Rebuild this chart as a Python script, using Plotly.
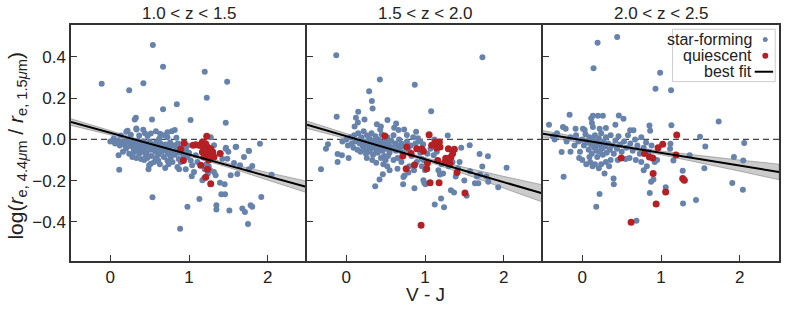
import plotly.graph_objects as go

# ---------------- data ----------------
panel_titles = ["1.0 < z < 1.5", "1.5 < z < 2.0", "2.0 < z < 2.5"]
x_ticks = [0, 1, 2]
y_ticks = [0.4, 0.2, 0.0, -0.2, -0.4]
y_tick_labels = ["0.4", "0.2", "0.0", "\u22120.2", "\u22120.4"]

sf1 = [(0.54,0.458),(-0.11,0.27),(0.67,0.352),(1.20,0.328),(1.485,0.28),(0.24,0.239),(0.42,0.272),(1.226,0.202),(0.845,0.17),(0.67,0.146),(1.02,0.094),(0.325,0.105),(0.31,0.097),(0.53,0.097),(1.467,0.081),
(0.219,0.042),(0.333,0.048),(0.418,0.047),(0.515,0.029),(0.633,0.027),(0.726,0.035),(0.819,0.045),(0.781,0.039),(0.726,0.011),(0.84,0.008),(0.134,0.019),(0.261,0.023),(0.367,0.019),(0.473,0.016),(0.62,0.003),(0.041,0.003),(0.092,-0.005),(0.203,0.037),(0.33,0.053),(1.276,0.011),(0.58,0.04),(0.68,0.02),(0.44,0.03),
(0.00,-0.01),(0.06,-0.02),(0.089,-0.012),(0.12,-0.03),(0.15,-0.01),(0.18,-0.025),(0.20,-0.04),(0.22,-0.005),(0.25,-0.02),(0.27,-0.035),(0.29,-0.01),(0.30,-0.05),(0.32,-0.02),(0.34,-0.035),(0.35,-0.005),(0.37,-0.045),(0.38,-0.02),(0.40,-0.03),(0.41,-0.06),(0.42,-0.01),(0.44,-0.04),(0.45,-0.02),(0.46,-0.065),(0.48,-0.035),(0.50,-0.01),(0.51,-0.05),(0.52,-0.08),(0.54,-0.025),(0.55,-0.045),(0.57,-0.06),(0.58,-0.015),(0.60,-0.035),(0.61,-0.075),(0.62,-0.05),(0.64,-0.02),(0.65,-0.06),(0.67,-0.04),(0.68,-0.085),(0.70,-0.025),(0.71,-0.055),(0.73,-0.07),(0.75,-0.04),(0.76,-0.015),(0.78,-0.06),(0.80,-0.03),(0.82,-0.075),(0.84,-0.05),(0.86,-0.02),(0.88,-0.065),(0.90,-0.04),(0.93,-0.08),(0.96,-0.055),(0.98,-0.03),(1.00,-0.07),
(0.105,-0.077),(0.113,-0.147),(0.198,-0.045),(0.303,-0.061),(0.367,-0.069),(0.451,-0.077),(0.494,-0.126),(0.515,-0.118),(0.485,-0.145),(0.557,-0.11),(0.608,-0.102),(0.697,-0.139),(0.726,-0.102),(0.769,-0.085),(0.853,-0.134),(0.874,-0.145),(0.895,-0.11),(0.959,-0.145),(0.536,-0.281),(0.98,-0.327),(0.887,-0.434),(1.132,-0.289),(1.035,-0.179),(1.064,-0.158),(1.17,-0.198),(1.19,-0.19),(1.318,-0.158),(1.339,-0.174),(1.348,-0.319),(1.348,-0.34),(1.394,-0.21),(1.453,-0.218),(1.411,-0.266),(1.458,-0.266),(1.513,-0.345),(1.53,-0.174),(1.572,-0.115),(1.614,-0.168),(1.648,-0.126),(1.678,-0.335),(1.711,-0.352),(1.75,-0.411),(1.783,-0.319),(1.804,-0.327),(1.762,-0.145),(1.804,-0.129),(1.699,-0.085),(1.762,-0.056),(1.919,-0.279),(1.902,-0.021),(2.05,-0.171),(1.593,-0.037),(1.466,-0.045),(1.487,-0.094),(1.424,-0.094),(1.403,-0.069),(1.318,-0.029),(1.086,-0.077),(1.107,-0.11),(1.022,-0.102),(1.04,-0.125),(0.98,-0.085),(1.0,-0.065),(0.96,-0.045),(0.94,-0.06),(0.87,-0.095),(0.85,-0.045),(0.83,-0.028),(1.25,-0.13),(1.27,-0.15),(1.22,-0.12),(1.20,-0.145),(1.24,-0.165),(1.6,-0.036),(1.759,-0.055),(1.47,-0.04),(1.5,-0.06),(0.16,-0.06),(0.24,-0.07),(0.28,-0.085),(0.33,-0.09),(0.39,-0.095),(0.43,-0.1),(0.47,-0.09),(0.58,-0.09),(0.63,-0.12),(0.74,-0.12),(0.79,-0.11)]

q1 = [(1.225,0.015),(0.938,-0.018),(0.895,-0.048),(0.929,-0.102),(1.052,-0.029),(1.086,-0.026),(1.128,-0.029),(1.17,-0.013),(1.212,-0.021),(1.234,-0.037),(1.191,-0.045),(1.255,-0.053),(1.276,-0.045),(1.17,-0.061),(1.212,-0.077),(1.297,-0.069),(1.318,-0.085),(1.191,-0.085),(1.234,-0.069),(1.276,-0.085),(1.394,-0.069),(1.149,-0.126),(1.234,-0.145),(1.212,-0.184),(1.276,-0.215),(1.16,-0.03),(1.25,-0.1),(1.30,-0.06),(1.2,-0.05)]

sf2 = [(-0.128,0.408),(1.73,0.398),(0.426,0.291),(0.87,0.265),(0.29,0.234),(0.325,0.186),(0.334,0.15),(-0.123,0.11),(0.151,0.134),(1.078,0.137),(0.122,0.105),(0.147,0.082),(0.231,0.097),(0.105,0.063),(0.388,0.073),(0.439,0.063),(0.43,0.048),(0.523,0.094),(0.633,0.077),(0.608,0.056),(0.663,0.045),(0.735,0.048),(0.887,0.037),(0.769,0.021),(1.289,0.019),(0.976,-0.023),(-0.259,-0.045),(-0.234,-0.023),(-0.322,-0.145),(-0.111,-0.071),(-0.111,-0.11),(-0.056,-0.077),(0.029,-0.09),
(-0.05,-0.01),(0.0,0.0),(0.02,-0.03),(0.05,0.01),(0.07,-0.02),(0.09,-0.04),(0.10,0.02),(0.12,-0.01),(0.14,-0.05),(0.15,0.03),(0.17,-0.02),(0.18,-0.06),(0.19,0.01),(0.21,-0.035),(0.22,0.04),(0.23,-0.01),(0.24,-0.05),(0.25,-0.07),(0.26,0.02),(0.27,-0.025),(0.28,-0.045),(0.29,0.005),(0.30,-0.06),(0.31,-0.015),(0.32,0.03),(0.33,-0.04),(0.34,-0.075),(0.35,-0.005),(0.36,-0.03),(0.37,0.015),(0.38,-0.055),(0.39,-0.02),(0.40,-0.065),(0.41,0.0),(0.42,-0.04),(0.44,-0.015),(0.45,0.025),(0.46,-0.055),(0.47,-0.03),(0.48,-0.08),(0.50,-0.01),(0.51,-0.045),(0.52,0.01),(0.54,-0.025),(0.55,-0.065),(0.57,-0.005),(0.58,-0.04),(0.60,0.02),(0.62,-0.02),(0.63,-0.055),(0.65,-0.03),(0.67,0.0),(0.68,-0.045),(0.70,-0.02),(0.72,-0.065),(0.74,-0.035),(0.77,-0.01),(0.79,-0.05),(0.82,-0.03),(0.85,0.01),(0.88,-0.02),(0.91,0.005),(0.94,-0.01),
(0.367,-0.227),(0.422,-0.194),(0.464,-0.169),(0.38,-0.113),(0.52,-0.13),(0.50,-0.10),(0.53,-0.08),(0.65,-0.142),(0.726,-0.182),(0.74,-0.175),(0.722,-0.218),(0.79,-0.161),(0.866,-0.237),(0.895,-0.11),(0.959,-0.095),(0.94,-0.065),(0.98,-0.198),(0.99,-0.21),(1.005,-0.218),(1.124,-0.316),(1.204,-0.287),(1.242,-0.329),(1.33,-0.247),(1.369,-0.258),(1.39,-0.18),(1.42,-0.14),(1.44,-0.11),(1.53,-0.274),(1.568,-0.029),(1.572,-0.155),(1.635,-0.213),(1.678,-0.213),(1.694,-0.071),(1.728,-0.132),(1.8,-0.082),(1.804,-0.206),(1.931,-0.232),(2.037,-0.137),(1.78,-0.18),(1.70,-0.17),(1.66,-0.18),(1.19,-0.17),(1.23,-0.165),(1.17,-0.15),(1.21,-0.12),(1.11,-0.077),(1.15,-0.06),(1.07,-0.045),(1.03,-0.07),(0.98,-0.1),(0.96,-0.13),(1.26,-0.09),(1.30,-0.13),(1.35,-0.11),(1.12,0.0),(1.08,-0.03),(0.60,-0.10),(0.65,-0.09),(0.70,-0.11),(0.55,-0.15),(0.47,-0.12),(0.44,-0.09),(0.26,-0.09),(0.33,-0.1),(0.83,-0.08),(0.80,-0.13),(0.86,-0.15),(1.00,-0.15),(1.46,-0.04),(1.50,-0.2)]

q2 = [(0.489,0.016),(1.052,0.023),(0.95,-0.416),(0.769,-0.037),(0.718,-0.081),(0.823,-0.069),(0.895,-0.045),(0.959,-0.045),(0.98,-0.058),(0.76,-0.142),(0.866,-0.124),(1.022,-0.142),(1.031,-0.115),(1.065,-0.21),(1.179,-0.21),(1.086,-0.029),(1.128,-0.013),(1.183,-0.013),(1.149,-0.042),(1.191,-0.037),(1.297,-0.045),(1.373,-0.048),(1.352,-0.069),(1.162,-0.102),(1.265,-0.092),(1.31,-0.102),(1.33,-0.085),(1.255,-0.11),(1.318,-0.118),(1.407,-0.161),(1.508,-0.26)]

sf3 = [(0.194,0.469),(0.443,0.497),(0.143,0.345),(0.989,0.323),(0.93,0.246),(1.128,0.238),(-0.162,0.119),(1.733,0.087),
(-0.424,0.071),(0.134,0.115),(0.198,0.115),(0.261,0.115),(0.113,0.103),(0.464,0.116),(0.523,0.1),(0.122,0.079),(-0.246,0.06),(-0.212,0.052),(-0.086,0.052),(0.008,0.052),(0.03,0.045),(0.134,0.06),(0.22,0.052),(0.30,0.055),(0.42,0.071),(0.608,0.044),(0.65,0.044),(0.853,0.068),(0.862,0.042),(1.132,0.069),(1.496,0.013),(1.563,-0.034),(2.058,-0.018),(1.927,-0.085),(2.045,-0.103),(1.906,-0.211),(2.041,-0.244),(1.551,-0.14),(1.445,-0.294),(1.276,-0.152),(1.28,-0.311),(1.365,-0.077),(1.158,-0.102),(1.12,-0.021),(1.115,-0.045),(1.06,-0.232),(1.056,-0.252),(0.904,-0.194),(0.874,-0.206),(0.857,-0.26),(0.688,-0.395),(0.177,-0.327),(0.219,-0.265),(0.282,-0.166),(0.397,-0.19),(0.40,-0.218),(-0.238,-0.181),(-0.263,-0.061),(-0.352,0.0),(-0.373,0.015),(-0.322,0.03),
(-0.20,-0.01),(-0.15,0.01),(-0.10,-0.03),(-0.08,0.02),(-0.05,-0.01),(-0.03,-0.06),(0.0,0.0),(0.02,-0.03),(0.04,0.025),(0.06,-0.015),(0.08,-0.05),(0.09,0.01),(0.11,-0.025),(0.12,-0.07),(0.13,0.0),(0.15,-0.04),(0.16,0.02),(0.17,-0.015),(0.18,-0.055),(0.19,-0.085),(0.20,-0.03),(0.21,0.005),(0.22,-0.06),(0.23,-0.02),(0.24,0.03),(0.25,-0.045),(0.26,-0.075),(0.27,-0.01),(0.29,-0.035),(0.30,0.01),(0.31,-0.065),(0.33,-0.02),(0.35,-0.05),(0.36,0.02),(0.38,-0.03),(0.40,-0.07),(0.42,-0.005),(0.44,-0.045),(0.46,0.015),(0.48,-0.025),(0.50,-0.06),(0.53,-0.01),(0.56,-0.04),(0.58,0.02),(0.61,-0.02),(0.64,-0.055),(0.67,0.0),(0.70,-0.03),(0.73,-0.07),(0.75,0.01),(0.78,-0.04),(0.81,-0.015),(0.84,-0.06),(0.88,-0.03),(0.95,-0.1),(0.92,-0.11),
(-0.04,-0.09),(0.0,-0.1),(0.05,-0.12),(0.10,-0.11),(0.13,-0.13),(0.16,-0.12),(0.21,-0.14),(0.24,-0.12),(0.30,-0.11),(0.34,-0.13),(0.36,-0.10),(0.45,-0.1),(0.55,-0.095),(0.6,-0.09),(0.68,-0.1),(0.75,-0.11),(0.82,-0.13),(0.78,-0.15),(0.09,-0.085),(-0.15,-0.06)]

q3 = [(1.2,0.021),(1.022,-0.024),(0.963,-0.04),(0.79,-0.069),(0.853,-0.085),(0.895,-0.09),(0.494,-0.09),(1.191,-0.076),(0.9,-0.166),(1.276,-0.19),(1.297,-0.198),(1.06,-0.255),(0.938,-0.313),(0.62,-0.402)]

# best-fit lines (end points) and confidence band half-widths
fit_x = [-0.5, 2.5]
fit_y = [[0.084, -0.231], [0.071, -0.263], [0.027, -0.158]]
band_x = [-0.5, 0.0, 0.5, 1.0, 1.5, 2.0, 2.5]
band_half = [[0.016, 0.010, 0.006, 0.006, 0.010, 0.018, 0.028],
             [0.018, 0.012, 0.008, 0.008, 0.016, 0.028, 0.042],
             [0.016, 0.010, 0.007, 0.009, 0.017, 0.027, 0.038]]

sf_data = [sf1, sf2, sf3]
q_data = [q1, q2, q3]

# ---------------- styling ----------------
BLUE = "#6783ab"
RED = "#b52025"
FONT = "Liberation Sans, Arial, sans-serif"
AX = "#333333"

fig = go.Figure()
domains = [[0, 1/3], [1/3, 2/3], [2/3, 1]]

for i in range(3):
    xa = "x" if i == 0 else f"x{i+1}"
    ya = "y" if i == 0 else f"y{i+1}"
    s = (fit_y[i][1] - fit_y[i][0]) / (fit_x[1] - fit_x[0])
    line_at = [fit_y[i][0] + s * (bx - fit_x[0]) for bx in band_x]
    upper = [l + h for l, h in zip(line_at, band_half[i])]
    lower = [l - h for l, h in zip(line_at, band_half[i])]
    fig.add_trace(go.Scatter(x=band_x + band_x[::-1], y=upper + lower[::-1], fill="toself",
                             fillcolor="rgba(140,140,140,0.45)", mode="lines",
                             line=dict(color="rgba(110,110,110,0.6)", width=0.8),
                             xaxis=xa, yaxis=ya, showlegend=False, hoverinfo="skip"))
    fig.add_trace(go.Scatter(x=[p[0] for p in sf_data[i]], y=[p[1] for p in sf_data[i]], mode="markers",
                             marker=dict(color=BLUE, size=6, line=dict(width=0)),
                             name="star-forming", xaxis=xa, yaxis=ya, showlegend=False))
    fig.add_trace(go.Scatter(x=[p[0] for p in q_data[i]], y=[p[1] for p in q_data[i]], mode="markers",
                             marker=dict(color=RED, size=7, line=dict(width=0)),
                             name="quiescent", xaxis=xa, yaxis=ya, showlegend=False))
    fig.add_trace(go.Scatter(x=fit_x, y=fit_y[i], mode="lines", line=dict(color="black", width=2),
                             name="best fit", xaxis=xa, yaxis=ya, showlegend=False))
    fig.add_shape(type="line", xref=f"{xa} domain", yref=ya, x0=0, x1=1, y0=0, y1=0,
                  line=dict(color="#444444", width=1.3, dash="6px,4px"), layer="below")

    xkey = "xaxis" if i == 0 else f"xaxis{i+1}"
    ykey = "yaxis" if i == 0 else f"yaxis{i+1}"
    fig.update_layout({
        xkey: dict(domain=domains[i], range=[-0.5, 2.5], anchor=ya, tickvals=x_ticks,
                   ticks="inside", ticklen=6, tickwidth=1.2, tickcolor=AX,
                   showline=True, linecolor=AX, linewidth=1.5, mirror=True,
                   showgrid=False, zeroline=False, tickfont=dict(size=17, color="#222")),
        ykey: dict(domain=[0, 1], range=[-0.59, 0.555], anchor=xa, tickvals=y_ticks,
                   ticktext=y_tick_labels, showticklabels=(i == 0),
                   ticks="inside", ticklen=6, tickwidth=1.2, tickcolor=AX,
                   showline=True, linecolor=AX, linewidth=1.5, mirror=(i == 2),
                   showgrid=False, zeroline=False, tickfont=dict(size=17, color="#222")),
    })
    fig.add_annotation(text=panel_titles[i], xref=f"{xa} domain", yref="paper", x=0.5, y=1.047,
                       xanchor="center", yanchor="middle", showarrow=False,
                       font=dict(size=17, color="#222"))

# axis titles
fig.add_annotation(text="V - J", xref="x2 domain", yref="paper", x=0.5, y=-0.14,
                   xanchor="center", yanchor="middle", showarrow=False, borderpad=0,
                   font=dict(size=19, color="#222"))
fig.add_annotation(text="log(<i>r</i><sub>e, 4.4<i>\u03bc</i>m</sub> / <i>r</i><sub>e, 1.5<i>\u03bc</i>m</sub>)",
                   xref="paper", yref="paper", x=-0.076, y=0.49, textangle=-90,
                   xanchor="center", yanchor="middle", showarrow=False, font=dict(size=21, color="#222"))

# legend (text left, symbol right) in panel 3
fig.add_shape(type="rect", xref="x3 domain", yref="y3 domain", x0=0.549, x1=0.984, y0=0.76, y1=0.982,
              line=dict(color="#cccccc", width=1), fillcolor="rgba(255,255,255,0.8)")
leg_labels = ["star-forming", "quiescent", "best fit"]
leg_y = [0.939, 0.870, 0.802]
for lab, ly in zip(leg_labels, leg_y):
    fig.add_annotation(text=lab, xref="x3 domain", yref="y3 domain", x=0.893, y=ly,
                       xanchor="right", yanchor="middle", showarrow=False, font=dict(size=16, color="#222"))
rx, ry = 2.5 / 237, 2.5 / 236
fig.add_shape(type="circle", xref="x3 domain", yref="y3 domain", x0=0.942 - rx, x1=0.942 + rx,
              y0=leg_y[0] - ry, y1=leg_y[0] + ry, fillcolor=BLUE, line=dict(width=0))
rx2, ry2 = 3 / 237, 3 / 236
fig.add_shape(type="circle", xref="x3 domain", yref="y3 domain", x0=0.942 - rx2, x1=0.942 + rx2,
              y0=leg_y[1] - ry2, y1=leg_y[1] + ry2, fillcolor=RED, line=dict(width=0))
fig.add_shape(type="line", xref="x3 domain", yref="y3 domain", x0=0.897, x1=0.975,
              y0=leg_y[2], y1=leg_y[2], line=dict(color="black", width=2))

fig.update_layout(width=789, height=311, margin=dict(l=71, r=8, t=25, b=50),
                  paper_bgcolor="white", plot_bgcolor="white",
                  font=dict(family=FONT, color="#222"), showlegend=False)

fig.write_html("out.html", config={"displayModeBar": False},
               post_script="document.body.style.margin='0';document.body.style.overflow='hidden';")
